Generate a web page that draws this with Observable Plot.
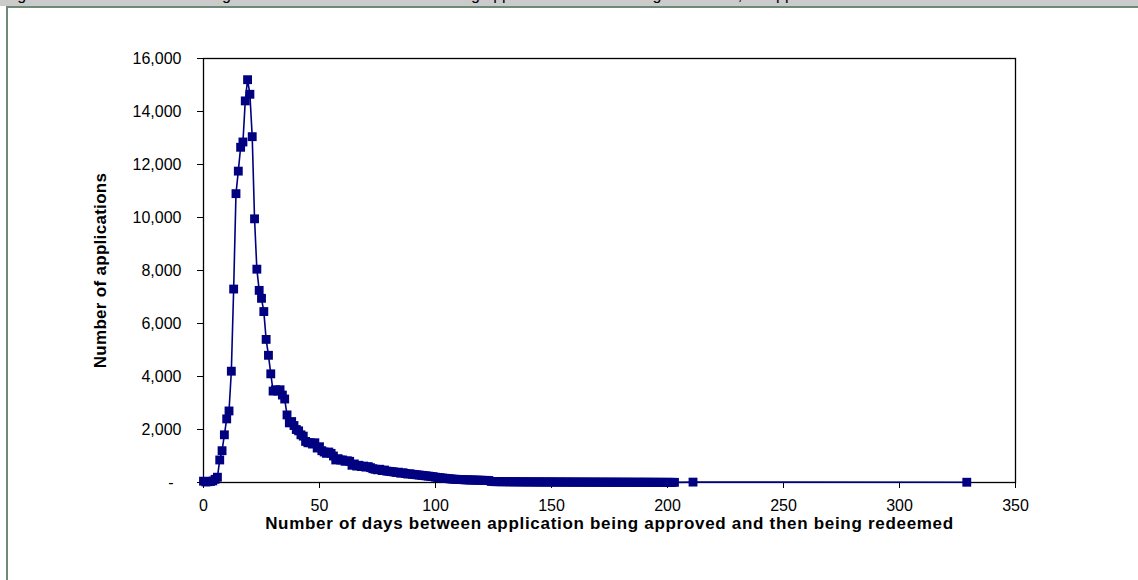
<!DOCTYPE html>
<html><head><meta charset="utf-8">
<script src="https://cdn.jsdelivr.net/npm/d3@7"></script>
<script src="https://cdn.jsdelivr.net/npm/@observablehq/plot@0.6"></script>
<style>
html,body{margin:0;padding:0;background:#fff;width:1138px;height:580px;overflow:hidden;font-family:"Liberation Sans",Arial,sans-serif;}
#strip{position:absolute;left:0;top:0;width:1138px;height:6px;background:#cbcbcb;overflow:hidden;}
#title{position:absolute;left:4px;top:-13px;font-size:16px;line-height:16px;white-space:nowrap;color:#000;}
#frame{position:absolute;left:6px;top:6px;width:1300px;height:700px;border-left:2px solid #6f8979;border-top:2px solid #6f8979;}
#chart{position:absolute;left:0;top:0;}
g[aria-label$="-axis label"] text, g[aria-label$="-axis label"]{font-weight:bold;font-size:17px;}
g[aria-label="x-axis label"]{letter-spacing:0.7px;}
g[aria-label="y-axis label"]{letter-spacing:0.3px;}
g[aria-label$="-axis tick label"]{font-size:16px;}
</style></head><body>
<div id="strip"><div id="title">Figure 5: Distribution of the length of time between a voucher being approved and then being redeemed, all applications</div></div>
<div id="frame"></div>
<div id="chart"></div>
<script>
// counts of applications, one value per day, starting at day 0
const counts = [
  50, 20, 30, 40, 60, 120, 200, 850, 1200, 1800,
  2400, 2700, 4200, 7300, 10900, 11750, 12650, 12850, 14400, 15200,
  14650, 13050, 9950, 8050, 7250, 6950, 6450, 5400, 4800, 4100,
  3450, 3500, 3450, 3500, 3300, 3150, 2550, 2250, 2300, 2150,
  2000, 1950, 1800, 1750, 1550, 1500, 1500, 1450, 1500, 1300,
  1350, 1200, 1150, 1100, 1150, 1100, 1000, 850, 900, 850,
  850, 800, 820, 800, 650, 700, 620, 650, 600, 620,
  580, 600, 560, 520, 500, 480, 500, 450, 470, 430,
  420, 410, 400, 380, 390, 350, 370, 340, 320, 330,
  310, 300, 290, 280, 270, 260, 250, 240, 230, 220,
  200, 190, 180, 170, 160, 150, 140, 130, 125, 120,
  115, 110, 105, 100, 100, 95, 95, 90, 90, 85,
  85, 80, 80, 75, 40, 35, 30, 30, 32, 28,
  30, 28, 26, 28, 25, 26, 24, 25, 22, 24,
  22, 23, 20, 22, 20, 21, 19, 20, 18, 20,
  18, 19, 17, 18, 16, 18, 16, 17, 15, 16,
  15, 16, 14, 15, 14, 15, 13, 14, 13, 14,
  12, 13, 12, 13, 12, 12, 11, 12, 11, 12,
  10, 11, 10, 11, 10, 10, 9, 10, 9, 10,
  9, 9, 8, 9, 8, 8, 7, 8, 7, 7,
  6, 7, 6, 6
];
// isolated late observations
const extraDays = [211, 329];
const extraCounts = [15, 10];

const xTicks = [0, 50, 100, 150, 200, 250, 300, 350];
const yTicks = [0, 2000, 4000, 6000, 8000, 10000, 12000, 14000, 16000];
const xLabel = "Number of days between application being approved and then being redeemed";
const yLabel = "Number of applications";

const data = counts.map((c, i) => ({day: i, count: c}))
  .concat(extraDays.map((d, i) => ({day: d, count: extraCounts[i]})));

const fmt = d3.format(",");
const navy = "#000080";

const chart = Plot.plot({
  width: 1138, height: 580,
  marginLeft: 203, marginRight: 123, marginTop: 58, marginBottom: 98,
  style: {background: "transparent", fontFamily: "'Liberation Sans', Arial, sans-serif", fontSize: "16px", color: "#000", overflow: "visible"},
  x: {domain: [0, 350], ticks: xTicks, tickSize: 6, tickPadding: 11, tickFormat: d => String(d),
      label: xLabel, labelAnchor: "center", labelOffset: 46, labelArrow: "none"},
  y: {domain: [0, 16000], ticks: yTicks, tickSize: 6, tickPadding: 16,
      tickFormat: d => d === 0 ? "-\u2002" : fmt(d),
      label: yLabel, labelAnchor: "center", labelOffset: 110, labelArrow: "none"},
  marks: [
    Plot.frame({stroke: "#000", strokeWidth: 1.3}),
    Plot.line(data, {x: "day", y: "count", stroke: navy, strokeWidth: 1.6}),
    Plot.dot(data, {x: "day", y: "count", symbol: "square", r: 5, fill: navy, stroke: "none"})
  ]
});
document.getElementById("chart").appendChild(chart);
</script>
</body></html>
